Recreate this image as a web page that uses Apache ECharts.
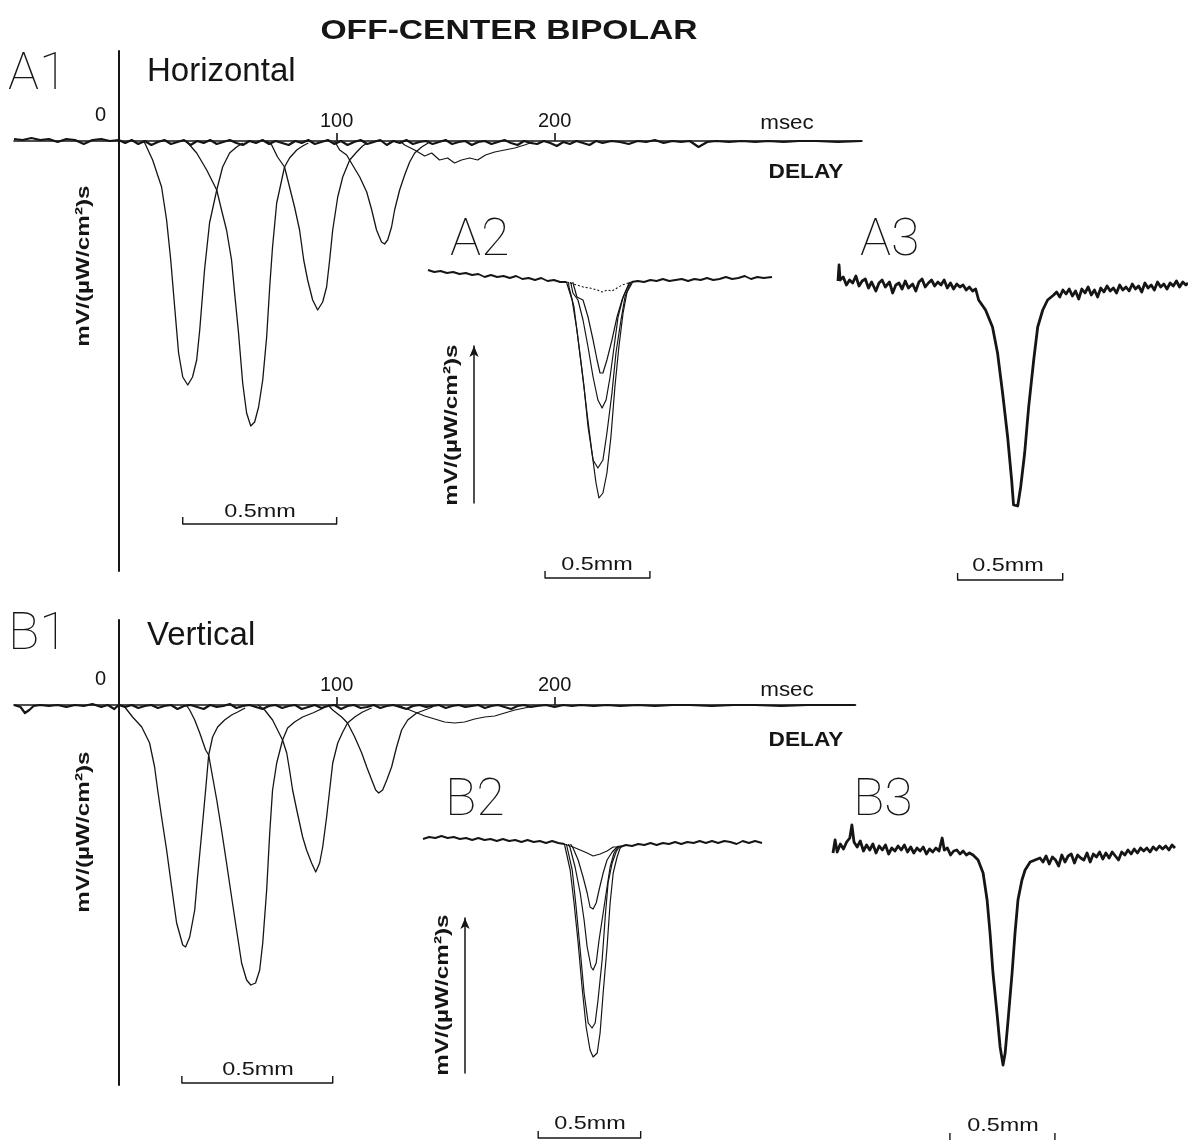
<!DOCTYPE html>
<html><head><meta charset="utf-8">
<script src="https://cdn.jsdelivr.net/npm/echarts@6/dist/echarts.min.js"></script>
<style>html,body{margin:0;padding:0;background:#fff}#c{width:1188px;height:1147px}</style>
</head><body><div id="c"></div>
<script>
// ---------- DATA ----------
// A1 / B1: x = delay (msec), y = response (arbitrary units, negative = hyperpolarizing)
const DELAY_TICK_LABELS = [0, 100, 200];
const DELAY_TICKS = [100, 200];

const A1_baseline = [[-48,0.02],[-44,0.01],[-40,0.03],[-36,0.01],[-32,0.02],[-28,-0.01],[-24,0.02],[-20,0.01],[-16,-0.03],[-12,0.01],[-8,0.02],[-4,0.0],[0,0.01],[3,-0.02],[6,0.01],[9,-0.03],[12,0.0],[15,-0.04],[18,-0.01],[21,0.01],[24,-0.03],[27,-0.01],[30,0.01],[33,-0.04],[36,0.0],[39,-0.02],[42,0.01],[45,-0.03],[48,-0.01],[51,0.01],[54,-0.02],[57,-0.04],[60,0.0],[63,-0.02],[66,0.01],[69,-0.03],[72,0.0],[75,-0.02],[78,-0.04],[81,0.0],[84,-0.02],[87,0.01],[90,-0.03],[93,-0.01],[96,0.01],[99,-0.03],[102,0.0],[105,-0.04],[108,-0.01],[111,0.01],[114,-0.03],[117,-0.01],[120,0.01],[123,-0.04],[126,0.0],[129,-0.02],[132,0.01],[135,-0.03],[138,-0.01],[141,0.0],[144,-0.03],[147,-0.01],[150,0.01],[153,-0.03],[156,-0.01],[159,0.0],[162,-0.04],[165,-0.01],[168,0.0],[171,-0.03],[174,-0.01],[177,0.01],[180,-0.02],[183,-0.04],[186,0.0],[189,-0.02],[192,-0.03],[195,0.0],[198,-0.02],[201,-0.05],[204,-0.01],[207,-0.03],[210,0.0],[213,-0.02],[216,-0.04],[219,0.0],[222,-0.02],[226,0.0],[230,-0.01],[234,-0.03],[238,0.0],[242,-0.01],[246,0.01],[250,-0.02],[254,0.0],[258,-0.01],[262,0.0],[266,-0.06],[270,-0.01],[274,0.0],[280,-0.01],[286,0.0],[292,-0.01],[298,0.0],[305,-0.01],[312,0.0],[320,0.0],[330,-0.01],[341,0.0]];
const A1_d30  = [[11,0],[12,-0.02],[15.6,-0.19],[19.7,-0.46],[22,-0.79],[23.9,-1.19],[25.7,-1.66],[27.5,-2.12],[29.4,-2.36],[31.7,-2.44],[33.9,-2.36],[35.8,-2.19],[37.2,-1.89],[39.4,-1.29],[41.7,-0.82],[45,-0.49],[47.7,-0.26],[50.9,-0.12],[54.1,-0.06],[57,-0.02]];
const A1_d60  = [[31,0],[32.6,-0.04],[35.8,-0.12],[40.4,-0.29],[45,-0.49],[47.2,-0.69],[49.5,-0.89],[51.8,-1.19],[53.2,-1.52],[55,-1.92],[56.9,-2.42],[58.7,-2.72],[60.6,-2.85],[62.4,-2.81],[64.2,-2.66],[66.1,-2.39],[67.9,-1.96],[69.3,-1.46],[70.6,-1.06],[72.5,-0.62],[74.8,-0.39],[76.1,-0.26],[78.4,-0.17],[81.7,-0.09],[84.4,-0.05],[87,-0.02]];
const A1_d90  = [[68,0],[70.2,-0.04],[72.9,-0.16],[76.1,-0.26],[78.4,-0.46],[80.7,-0.66],[83,-0.89],[84.9,-1.19],[86.7,-1.39],[89,-1.59],[91.3,-1.69],[93.6,-1.61],[95.4,-1.46],[96.8,-1.19],[98.2,-0.89],[100.5,-0.56],[102.8,-0.36],[106,-0.19],[109.2,-0.11],[111.9,-0.05],[114,-0.02]];
const A1_d120 = [[99,0],[101.4,-0.09],[104.6,-0.14],[107.3,-0.24],[110.6,-0.36],[113.8,-0.51],[116.1,-0.69],[118.3,-0.89],[120.6,-1.01],[122,-1.03],[123.4,-0.99],[125.2,-0.86],[126.6,-0.69],[128.9,-0.49],[131.2,-0.34],[133.5,-0.21],[135.8,-0.12],[139,-0.06],[142,-0.02]];
const A1_d150 = [[129,0],[131.2,-0.04],[135.8,-0.09],[140.4,-0.15],[143.6,-0.12],[147.2,-0.19],[150.9,-0.17],[154.1,-0.22],[157.3,-0.19],[161,-0.17],[164.7,-0.19],[168.3,-0.14],[172.5,-0.11],[177.1,-0.09],[181.7,-0.07],[186.2,-0.04],[190,-0.01]];

const B1_baseline = [[-48,0.0],[-45,-0.02],[-43,-0.08],[-41,-0.05],[-39,-0.01],[-36,0.0],[-32,-0.01],[-28,0.0],[-24,-0.02],[-20,0.0],[-16,-0.01],[-12,0.01],[-8,-0.02],[-5,0.0],[-2,-0.04],[0,0.0],[3,-0.02],[6,0.0],[9,-0.03],[12,-0.01],[15,0.0],[18,-0.03],[21,-0.01],[24,0.0],[27,-0.04],[30,-0.01],[33,0.0],[36,-0.02],[39,-0.04],[42,0.0],[45,-0.02],[48,-0.01],[51,0.01],[54,-0.03],[57,-0.01],[60,0.0],[63,-0.02],[66,-0.04],[69,-0.01],[72,0.0],[75,-0.03],[78,-0.01],[81,0.0],[84,-0.04],[87,-0.02],[90,0.0],[93,-0.03],[96,-0.01],[99,0.0],[102,-0.04],[105,-0.01],[108,0.0],[111,-0.03],[114,-0.02],[117,0.0],[120,-0.03],[123,-0.01],[126,0.0],[129,-0.02],[132,-0.04],[135,-0.01],[138,0.0],[141,-0.02],[144,-0.01],[147,0.0],[150,-0.03],[153,-0.01],[156,0.0],[159,-0.02],[162,-0.01],[165,0.0],[168,-0.03],[171,-0.01],[174,0.0],[177,-0.02],[180,-0.04],[183,-0.01],[186,0.0],[189,-0.02],[192,-0.01],[196,0.0],[200,-0.02],[204,0.0],[208,-0.01],[212,0.0],[218,-0.01],[224,0.0],[230,-0.01],[238,0.0],[246,-0.01],[254,0.0],[262,0.0],[272,-0.01],[282,0.0],[292,0.0],[304,-0.01],[316,0.0],[328,0.0],[338,0.0]];
const B1_d30  = [[1,0],[2.8,-0.02],[6.4,-0.12],[10.6,-0.22],[14.2,-0.38],[16.5,-0.62],[17.9,-0.85],[19.7,-1.12],[22,-1.45],[24.3,-1.82],[26.6,-2.18],[29.4,-2.40],[30.7,-2.42],[32.6,-2.32],[34.9,-2.05],[36.2,-1.72],[38.1,-1.28],[39.9,-0.85],[41.3,-0.50],[43.1,-0.32],[45.4,-0.22],[48.6,-0.15],[51.8,-0.10],[54.6,-0.07],[58,-0.03]];
const B1_d60  = [[31,0],[32.6,-0.05],[34.9,-0.15],[37.2,-0.28],[39.9,-0.45],[41.3,-0.50],[43.1,-0.72],[45,-0.95],[47.2,-1.25],[49.5,-1.58],[51.8,-1.92],[54.1,-2.25],[56.4,-2.58],[58.7,-2.75],[60.6,-2.80],[62.8,-2.78],[64.7,-2.65],[66.1,-2.38],[67.9,-1.85],[69.3,-1.28],[70.6,-0.85],[72.5,-0.58],[75.2,-0.35],[77.5,-0.23],[80.7,-0.17],[84.4,-0.12],[89,-0.08],[94,-0.03]];
const B1_d90  = [[64,0],[67,-0.05],[70.6,-0.15],[72.9,-0.25],[75.2,-0.35],[77.1,-0.48],[78.4,-0.65],[79.8,-0.85],[81.7,-1.05],[83,-1.18],[84.4,-1.32],[86.2,-1.45],[88.5,-1.58],[90.4,-1.67],[92.2,-1.58],[93.6,-1.42],[95.4,-1.12],[96.8,-0.85],[98.2,-0.58],[100.5,-0.38],[102.8,-0.27],[105,-0.18],[108.3,-0.12],[111.9,-0.07],[116,-0.03]];
const B1_d120 = [[96,0],[98.2,-0.05],[102.3,-0.12],[105,-0.18],[108.3,-0.32],[111.5,-0.48],[113.8,-0.62],[116.1,-0.75],[117.9,-0.85],[119.3,-0.88],[121.1,-0.85],[123,-0.75],[125.2,-0.62],[127.5,-0.42],[129.8,-0.25],[132.6,-0.15],[136.7,-0.08],[140.4,-0.05],[144,-0.02]];
const B1_d150 = [[128,0],[131.2,-0.03],[135.8,-0.07],[140.4,-0.11],[145,-0.14],[149.5,-0.17],[154.1,-0.18],[158.7,-0.17],[163.3,-0.14],[167.9,-0.12],[172.5,-0.11],[177.1,-0.08],[181.7,-0.05],[186.2,-0.03],[190.8,-0.01]];

// A2 / B2 / A3 / B3: x = position (mm), y = response (arbitrary units)
const A2_baseL = [[-0.82,0.12],[-0.79,0.10],[-0.76,0.11],[-0.73,0.09],[-0.70,0.10],[-0.67,0.08],[-0.64,0.09],[-0.61,0.07],[-0.58,0.08],[-0.55,0.05],[-0.52,0.07],[-0.49,0.05],[-0.46,0.06],[-0.43,0.04],[-0.40,0.06],[-0.37,0.03],[-0.34,0.04],[-0.31,0.02],[-0.28,0.04],[-0.25,0.01],[-0.22,0.02],[-0.19,0.0],[-0.16,0.0]];
const A2_baseR = [[0.15,0.0],[0.18,0.01],[0.21,0.0],[0.24,0.02],[0.27,0.01],[0.30,0.03],[0.33,0.01],[0.36,0.02],[0.39,0.03],[0.42,0.01],[0.45,0.03],[0.48,0.02],[0.51,0.04],[0.54,0.02],[0.57,0.03],[0.60,0.05],[0.63,0.03],[0.66,0.04],[0.69,0.06],[0.72,0.03],[0.75,0.05],[0.78,0.04],[0.82,0.05]];
const A2_t1 = [[-0.16,0],[-0.157,-0.01],[-0.133,-0.18],[-0.110,-0.48],[-0.086,-0.88],[-0.062,-1.31],[-0.038,-1.71],[-0.019,-2.01],[-0.005,-2.16],[0.014,-2.11],[0.033,-1.91],[0.052,-1.55],[0.071,-1.05],[0.090,-0.65],[0.110,-0.31],[0.129,-0.10],[0.148,-0.03],[0.155,0]];
const A2_t2 = [[-0.15,0],[-0.148,-0.05],[-0.124,-0.25],[-0.100,-0.65],[-0.076,-1.05],[-0.057,-1.45],[-0.033,-1.78],[-0.010,-1.86],[0.014,-1.78],[0.033,-1.51],[0.057,-1.11],[0.076,-0.71],[0.100,-0.38],[0.119,-0.15],[0.138,-0.05],[0.15,0]];
const A2_t3 = [[-0.14,0],[-0.129,-0.11],[-0.105,-0.18],[-0.081,-0.38],[-0.057,-0.65],[-0.033,-0.95],[-0.010,-1.18],[0.010,-1.26],[0.029,-1.18],[0.048,-0.95],[0.067,-0.65],[0.086,-0.35],[0.110,-0.15],[0.129,-0.06],[0.145,0]];
const A2_t4 = [[-0.13,0],[-0.110,-0.15],[-0.081,-0.18],[-0.057,-0.35],[-0.033,-0.58],[-0.014,-0.78],[0.000,-0.91],[0.014,-0.91],[0.033,-0.78],[0.057,-0.58],[0.081,-0.35],[0.105,-0.18],[0.129,-0.06],[0.14,0]];
const A2_t5 = [[-0.16,0],[-0.110,-0.03],[-0.081,-0.05],[-0.048,-0.06],[-0.014,-0.08],[0.010,-0.10],[0.033,-0.08],[0.057,-0.09],[0.081,-0.06],[0.105,-0.03],[0.15,0]];

const A3_left = [[-0.845,0.04],[-0.84,0.2],[-0.835,0.05],[-0.82,0.08],[-0.805,0.0],[-0.79,0.05],[-0.775,0.02],[-0.76,0.09],[-0.745,-0.01],[-0.73,0.04],[-0.715,0.06],[-0.70,-0.03],[-0.685,0.03],[-0.665,-0.06],[-0.65,0.02],[-0.635,0.05],[-0.62,-0.02],[-0.60,0.03],[-0.585,-0.08],[-0.57,0.0],[-0.555,0.02],[-0.54,-0.04],[-0.525,0.04],[-0.51,-0.03],[-0.49,0.01],[-0.475,-0.06],[-0.46,0.03],[-0.445,0.06],[-0.43,-0.02],[-0.415,0.02],[-0.40,0.05],[-0.385,-0.01],[-0.37,0.03],[-0.355,0.0],[-0.34,0.05],[-0.325,-0.03],[-0.31,0.02],[-0.295,-0.04],[-0.28,0.01],[-0.265,-0.02],[-0.25,0.0],[-0.235,-0.05],[-0.22,-0.02],[-0.205,-0.06],[-0.19,-0.04]];
const A3_dip = [[-0.176,-0.15],[-0.143,-0.25],[-0.110,-0.42],[-0.086,-0.68],[-0.062,-1.08],[-0.038,-1.52],[-0.019,-1.95],[-0.010,-2.20],[0.010,-2.21],[0.024,-2.02],[0.043,-1.68],[0.062,-1.22],[0.086,-0.75],[0.105,-0.42],[0.129,-0.25],[0.152,-0.15]];
const A3_right = [[0.181,-0.10],[0.195,-0.07],[0.21,-0.12],[0.225,-0.05],[0.24,-0.09],[0.255,-0.04],[0.27,-0.11],[0.285,-0.06],[0.30,-0.14],[0.315,-0.04],[0.33,-0.08],[0.345,-0.02],[0.36,-0.10],[0.375,-0.05],[0.39,-0.12],[0.405,-0.03],[0.42,-0.07],[0.435,-0.01],[0.45,-0.06],[0.465,-0.03],[0.48,-0.08],[0.495,0.0],[0.51,-0.05],[0.525,-0.02],[0.54,-0.06],[0.555,0.01],[0.57,-0.04],[0.585,-0.01],[0.60,-0.07],[0.615,0.02],[0.63,-0.03],[0.645,0.0],[0.66,-0.05],[0.675,0.03],[0.69,-0.02],[0.705,0.01],[0.72,-0.04],[0.735,0.02],[0.75,-0.01],[0.765,0.04],[0.78,-0.02],[0.795,0.03],[0.81,0.0],[0.82,0.02]];

const B2_baseL = [[-0.83,0.03],[-0.80,0.05],[-0.77,0.04],[-0.74,0.06],[-0.71,0.04],[-0.68,0.05],[-0.65,0.03],[-0.62,0.04],[-0.59,0.02],[-0.56,0.04],[-0.53,0.02],[-0.50,0.03],[-0.47,0.01],[-0.44,0.03],[-0.41,0.01],[-0.38,0.02],[-0.35,0.0],[-0.32,0.02],[-0.29,0.0],[-0.26,0.01],[-0.23,-0.01],[-0.20,0.01],[-0.17,-0.01],[-0.14,-0.02]];
const B2_baseR = [[0.13,-0.05],[0.16,-0.03],[0.19,-0.04],[0.22,-0.02],[0.25,-0.03],[0.28,-0.01],[0.31,-0.03],[0.34,-0.01],[0.37,-0.02],[0.40,0.0],[0.43,-0.02],[0.46,0.0],[0.49,-0.01],[0.52,0.01],[0.55,-0.01],[0.58,0.01],[0.61,-0.01],[0.64,0.01],[0.67,0.0],[0.70,-0.02],[0.73,0.01],[0.76,-0.01],[0.79,0.01],[0.824,-0.01]];
const B2_t1 = [[-0.14,-0.02],[-0.137,-0.03],[-0.112,-0.28],[-0.093,-0.61],[-0.073,-1.01],[-0.054,-1.45],[-0.034,-1.85],[-0.015,-2.08],[0,-2.15],[0.020,-2.11],[0.034,-1.91],[0.049,-1.51],[0.068,-1.05],[0.083,-0.61],[0.098,-0.31],[0.117,-0.15],[0.132,-0.06],[0.14,-0.04]];
const B2_t2 = [[-0.13,-0.02],[-0.127,-0.05],[-0.102,-0.28],[-0.083,-0.65],[-0.063,-1.08],[-0.044,-1.51],[-0.024,-1.81],[-0.005,-1.86],[0.010,-1.81],[0.024,-1.58],[0.044,-1.18],[0.059,-0.75],[0.073,-0.41],[0.093,-0.21],[0.112,-0.10],[0.127,-0.05],[0.135,-0.04]];
const B2_t3 = [[-0.12,-0.02],[-0.112,-0.06],[-0.088,-0.25],[-0.063,-0.51],[-0.044,-0.78],[-0.029,-1.05],[-0.010,-1.25],[0,-1.28],[0.015,-1.21],[0.029,-0.98],[0.049,-0.71],[0.068,-0.45],[0.083,-0.25],[0.102,-0.11],[0.122,-0.05],[0.13,-0.04]];
const B2_t4 = [[-0.11,-0.02],[-0.098,-0.06],[-0.073,-0.18],[-0.049,-0.35],[-0.029,-0.51],[-0.015,-0.65],[0,-0.67],[0.015,-0.61],[0.029,-0.48],[0.049,-0.31],[0.068,-0.18],[0.093,-0.10],[0.117,-0.05],[0.125,-0.04]];
const B2_t5 = [[-0.14,-0.02],[-0.127,-0.03],[-0.098,-0.05],[-0.063,-0.08],[-0.029,-0.11],[0,-0.14],[0.034,-0.12],[0.068,-0.09],[0.098,-0.05],[0.13,-0.05]];

const B3_left = [[-0.81,-0.03],[-0.80,0.10],[-0.79,-0.02],[-0.775,0.06],[-0.76,0.01],[-0.745,0.08],[-0.73,0.12],[-0.72,0.25],[-0.71,0.08],[-0.695,0.03],[-0.68,0.09],[-0.665,-0.01],[-0.65,0.05],[-0.635,0.0],[-0.62,0.06],[-0.605,-0.03],[-0.59,0.04],[-0.575,0.0],[-0.56,0.05],[-0.545,-0.04],[-0.53,0.02],[-0.515,-0.01],[-0.50,0.04],[-0.485,0.0],[-0.47,0.05],[-0.455,-0.02],[-0.44,0.03],[-0.425,-0.03],[-0.41,0.02],[-0.395,-0.01],[-0.38,0.03],[-0.365,-0.04],[-0.35,0.01],[-0.335,-0.02],[-0.32,0.02],[-0.305,-0.01],[-0.29,0.12],[-0.28,0.0],[-0.265,0.02],[-0.25,-0.05],[-0.235,-0.01],[-0.22,0.0],[-0.205,-0.04],[-0.19,-0.01],[-0.175,-0.05],[-0.16,-0.03]];
const B3_dip = [[-0.143,-0.05],[-0.119,-0.10],[-0.095,-0.23],[-0.076,-0.50],[-0.062,-0.83],[-0.048,-1.23],[-0.029,-1.63],[-0.014,-1.97],[0,-2.15],[0.010,-2.03],[0.024,-1.70],[0.043,-1.23],[0.057,-0.83],[0.071,-0.50],[0.090,-0.30],[0.105,-0.20],[0.129,-0.12]];
const B3_right = [[0.176,-0.08],[0.19,-0.12],[0.205,-0.06],[0.22,-0.14],[0.235,-0.07],[0.25,-0.10],[0.265,-0.16],[0.28,-0.05],[0.295,-0.12],[0.31,-0.06],[0.325,-0.04],[0.34,-0.13],[0.355,-0.05],[0.37,-0.08],[0.385,-0.10],[0.40,-0.03],[0.415,-0.12],[0.43,-0.04],[0.445,-0.07],[0.46,-0.02],[0.475,-0.09],[0.49,-0.03],[0.505,-0.08],[0.52,-0.02],[0.535,-0.06],[0.55,-0.10],[0.565,-0.02],[0.58,-0.05],[0.595,0.0],[0.61,-0.04],[0.625,0.01],[0.64,-0.03],[0.655,0.02],[0.67,-0.01],[0.685,0.02],[0.70,-0.02],[0.715,0.03],[0.73,0.0],[0.745,0.04],[0.76,0.01],[0.775,0.04],[0.79,0.0],[0.805,0.05],[0.819,0.02]];

// Scale bars (0.5 mm): extent in each panel's x units
const SCALE_LEN_MM = 0.5;
const A1_scaleBar = [29.4, 100.0];   // msec-axis extent of the 0.5 mm bar
const B1_scaleBar = [29.0, 98.2];
const A2_scaleStart = -0.262, A3_scaleStart = -0.276, B2_scaleStart = -0.268, B3_scaleStart = -0.253;

// ---------- CHART ----------
const INK = '#151515';
const FONT = '"Liberation Sans", Arial, Helvetica, sans-serif';
const chart = echarts.init(document.getElementById('c'), null, {renderer: 'canvas'});

function line(g, data, width, extra) {
  return Object.assign({
    type: 'line', xAxisIndex: g, yAxisIndex: g, data: data,
    showSymbol: false, symbol: 'none', silent: true, clip: false,
    animation: false, lineStyle: {color: INK, width: width, join: 'round'}, z: 3
  }, extra || {});
}
function bar(g, x0, x1, y, h, extra) {
  return line(g, [[x0, y + h], [x0, y], [x1, y], [x1, y + h]], 1.4, extra);
}
function ticksOnly(g, x0, x1, y, h) {
  return line(g, [[x0, y + h], [x0, y], [x0, '-'], [x1, '-'], [x1, y], [x1, y + h]], 1.4, {connectNulls: false});
}

const grids = [
  {left: 14,  top: 51,  width: 848, height: 520},   // 0 A1
  {left: 428, top: 262, width: 344, height: 250},   // 1 A2
  {left: 838, top: 255, width: 350, height: 265},   // 2 A3
  {left: 14,  top: 620, width: 841.5, height: 465}, // 3 B1
  {left: 423, top: 822, width: 339, height: 250},   // 4 B2
  {left: 833, top: 830, width: 342, height: 250},   // 5 B3
  {left: 474, top: 346, width: 10, height: 157},    // 6 A2 arrow
  {left: 465, top: 918, width: 10, height: 155}     // 7 B2 arrow
];

// delay axis: drawn at the response zero line (offset down from the grid top)
function delayXAxis(g, max, offsetToZero) {
  return {
    gridIndex: g, type: 'value', min: -48, max: max, position: 'top', offset: -offsetToZero,
    axisLine: {show: true, onZero: false, lineStyle: {color: INK, width: 1.6}},
    axisTick: {show: true, inside: false, length: 8, customValues: DELAY_TICKS, lineStyle: {color: INK, width: 1.6}},
    axisLabel: {show: true, inside: false, margin: 10, customValues: DELAY_TICK_LABELS,
      color: INK, fontFamily: FONT, fontSize: 20,
      formatter: v => v === 0 ? '{o|0}' : String(v),
      rich: {o: {fontFamily: FONT, fontSize: 20, color: INK, padding: [0, 36, 6, 0]}}},
    splitLine: {show: false}
  };
}
function respYAxis(g, min, max) {
  return {
    gridIndex: g, type: 'value', min: min, max: max,
    axisLine: {show: true, onZero: true, lineStyle: {color: INK, width: 2}},
    axisTick: {show: false}, axisLabel: {show: false}, splitLine: {show: false}
  };
}
function hiddenAxis(g, min, max) {
  return {gridIndex: g, type: 'value', min: min, max: max, show: false, splitLine: {show: false}};
}
function arrowYAxis(g) {
  return {
    gridIndex: g, type: 'value', min: 0, max: 1, position: 'left',
    axisLine: {show: true, onZero: false, symbol: ['none', 'arrow'], symbolSize: [7, 11], lineStyle: {color: INK, width: 1.5}},
    axisTick: {show: false}, axisLabel: {show: false}, splitLine: {show: false}
  };
}

const xAxes = [
  delayXAxis(0, 341, 90),
  hiddenAxis(1, -0.82, 0.82),
  hiddenAxis(2, -0.845, 0.82),
  delayXAxis(3, 338, 85),
  hiddenAxis(4, -0.83, 0.824),
  hiddenAxis(5, -0.81, 0.819),
  hiddenAxis(6, 0, 1),
  hiddenAxis(7, 0, 1)
];
const yAxes = [
  respYAxis(0, -4.3, 0.9),
  hiddenAxis(1, -2.3, 0.2),
  hiddenAxis(2, -2.35, 0.3),
  respYAxis(3, -3.8, 0.85),
  hiddenAxis(4, -2.3, 0.2),
  hiddenAxis(5, -2.3, 0.2),
  arrowYAxis(6),
  arrowYAxis(7)
];

const series = [
  // A1
  line(0, A1_baseline, 2.2),
  line(0, A1_d30, 1.3), line(0, A1_d60, 1.3), line(0, A1_d90, 1.3), line(0, A1_d120, 1.3), line(0, A1_d150, 1.2),
  bar(0, A1_scaleBar[0], A1_scaleBar[1], -3.83, 0.07),
  // A2
  line(1, A2_baseL, 1.9), line(1, A2_baseR, 1.9),
  line(1, A2_t1, 1.2), line(1, A2_t2, 1.2), line(1, A2_t3, 1.2), line(1, A2_t4, 1.2),
  line(1, A2_t5, 1.1, {lineStyle: {color: INK, width: 1.1, type: [2, 2]}}),
  bar(1, A2_scaleStart, A2_scaleStart + SCALE_LEN_MM, -2.96, 0.07),
  // A3
  line(2, A3_left.concat(A3_dip, A3_right), 2.8),
  bar(2, A3_scaleStart, A3_scaleStart + SCALE_LEN_MM, -2.95, 0.07),
  // B1
  line(3, B1_baseline, 2.2),
  line(3, B1_d30, 1.3), line(3, B1_d60, 1.3), line(3, B1_d90, 1.3), line(3, B1_d120, 1.3), line(3, B1_d150, 1.2),
  bar(3, B1_scaleBar[0], B1_scaleBar[1], -3.78, 0.07),
  // B2
  line(4, B2_baseL, 1.9), line(4, B2_baseR, 1.9),
  line(4, B2_t1, 1.2), line(4, B2_t2, 1.2), line(4, B2_t3, 1.2), line(4, B2_t4, 1.2), line(4, B2_t5, 1.1),
  bar(4, B2_scaleStart, B2_scaleStart + SCALE_LEN_MM, -2.96, 0.07),
  // B3
  line(5, B3_left.concat(B3_dip, B3_right), 2.8),
  ticksOnly(5, B3_scaleStart, B3_scaleStart + SCALE_LEN_MM, -2.9, 0.07)
];

function txt(t, x, y, size, opts) {
  opts = opts || {};
  return {
    type: 'text', x: x, y: y, rotation: opts.rot || 0, scaleX: opts.sx || 1, silent: true, z: 10,
    style: {text: t, fill: INK, fontFamily: opts.family || FONT, fontSize: size,
      fontWeight: opts.weight || 'normal', align: opts.align || 'center', verticalAlign: 'middle'}
  };
}
const THIN = '"Roboto Thin", Roboto, "DejaVu Sans", sans-serif';
const YNAME = 'mV/(\u00b5W/cm\u00b2)s';
const graphics = [
  txt('OFF-CENTER BIPOLAR', 509, 31, 28, {weight: 'bold', sx: 1.2}),
  txt('A1', 8, 74, 52, {align: 'left', family: THIN, weight: 100}),
  txt('Horizontal', 147, 72, 33, {align: 'left'}),
  txt('msec', 787, 123, 20, {sx: 1.12}),
  txt('DELAY', 806, 172, 21, {weight: 'bold', sx: 1.08}),
  txt(YNAME, 84, 266, 19, {rot: Math.PI / 2, weight: 'bold', sx: 1.28}),
  txt('0.5mm', 260, 512, 18, {sx: 1.3}),
  txt('A2', 450, 240, 52, {align: 'left', family: THIN, weight: 100}),
  txt(YNAME, 452, 425, 19, {rot: Math.PI / 2, weight: 'bold', sx: 1.28}),
  txt('0.5mm', 597, 565, 18, {sx: 1.3}),
  txt('A3', 860, 240, 52, {align: 'left', family: THIN, weight: 100}),
  txt('0.5mm', 1008, 566, 18, {sx: 1.3}),
  txt('B1', 8, 634, 52, {align: 'left', family: THIN, weight: 100}),
  txt('Vertical', 147, 636, 33, {align: 'left'}),
  txt('msec', 787, 690, 20, {sx: 1.12}),
  txt('DELAY', 806, 740, 21, {weight: 'bold', sx: 1.08}),
  txt(YNAME, 84, 832, 19, {rot: Math.PI / 2, weight: 'bold', sx: 1.28}),
  txt('0.5mm', 258, 1070, 18, {sx: 1.3}),
  txt('B2', 445, 800, 52, {align: 'left', family: THIN, weight: 100}),
  txt(YNAME, 443, 995, 19, {rot: Math.PI / 2, weight: 'bold', sx: 1.28}),
  txt('0.5mm', 590, 1124, 18, {sx: 1.3}),
  txt('B3', 853, 800, 52, {align: 'left', family: THIN, weight: 100}),
  txt('0.5mm', 1003, 1126, 18, {sx: 1.3})
];

chart.setOption({
  backgroundColor: '#ffffff',
  animation: false,
  grid: grids,
  xAxis: xAxes,
  yAxis: yAxes,
  series: series,
  graphic: graphics
});
</script></body></html>
